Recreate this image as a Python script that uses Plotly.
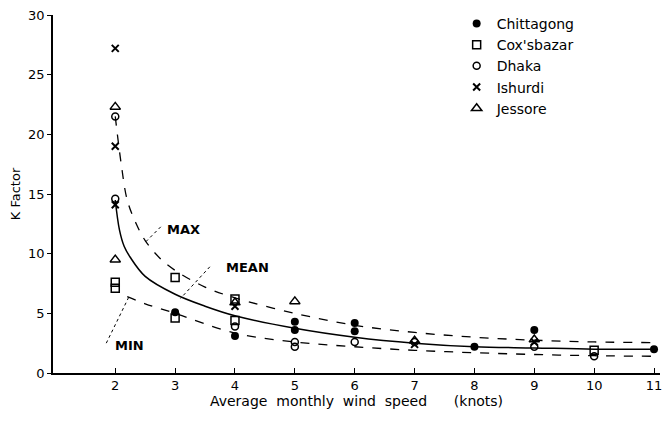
import plotly.graph_objects as go

# ---- data ----
chit_x = [3, 4, 5, 5, 6, 6, 8, 9, 11]
chit_y = [5.1, 3.1, 4.3, 3.6, 4.2, 3.5, 2.2, 3.6, 2.0]

cox_x = [2, 2, 3, 3, 4, 4, 10]
cox_y = [7.6, 7.1, 8.0, 4.6, 6.2, 4.4, 1.9]

dhaka_x = [2, 2, 4, 5, 5, 6, 7, 9, 10]
dhaka_y = [21.5, 14.6, 3.9, 2.6, 2.2, 2.6, 2.6, 2.2, 1.4]

ishurdi_x = [2, 2, 2, 4, 7, 9]
ishurdi_y = [27.2, 19.0, 14.1, 5.6, 2.4, 2.6]

jessore_x = [2, 2, 4, 5, 7, 9]
jessore_y = [22.3, 9.5, 5.9, 6.0, 2.7, 2.8]

max_x = [2.0, 2.1, 2.2, 2.35, 2.5, 2.75, 3, 3.5, 4, 5, 6, 7, 8, 9, 10, 11]
max_y = [21.5, 17.5, 14.5, 12.5, 11.1, 9.6, 8.6, 7.2, 6.3, 5.0, 4.0, 3.4, 3.0, 2.75, 2.6, 2.55]

mean_x = [2.0, 2.07, 2.15, 2.25, 2.5, 3, 3.5, 4, 5, 6, 7, 8, 9, 10, 11]
mean_y = [14.5, 12.0, 10.6, 9.7, 8.1, 6.6, 5.6, 4.8, 3.75, 3.0, 2.5, 2.2, 2.1, 2.0, 2.0]

min_x = [2.2, 2.5, 3, 4, 5, 6, 7, 8, 9, 10, 11]
min_y = [6.4, 5.8, 5.0, 3.35, 2.6, 2.2, 1.9, 1.7, 1.55, 1.45, 1.4]

x_ticks = [2, 3, 4, 5, 6, 7, 8, 9, 10, 11]
y_ticks = [0, 5, 10, 15, 20, 25, 30]

FONT = "DejaVu Sans"
BLACK = "#000000"

fig = go.Figure()

# curves
fig.add_trace(go.Scatter(x=max_x, y=max_y, mode="lines", line=dict(color=BLACK, width=1.3, dash="dash", shape="spline"),
                         showlegend=False, hoverinfo="skip"))
fig.add_trace(go.Scatter(x=mean_x, y=mean_y, mode="lines", line=dict(color=BLACK, width=1.5, shape="spline"),
                         showlegend=False, hoverinfo="skip"))
fig.add_trace(go.Scatter(x=min_x, y=min_y, mode="lines", line=dict(color=BLACK, width=1.3, dash="dash", shape="spline"),
                         showlegend=False, hoverinfo="skip"))

# stations
fig.add_trace(go.Scatter(x=chit_x, y=chit_y, mode="markers", name="Chittagong",
                         marker=dict(symbol="circle", size=8, color=BLACK)))
fig.add_trace(go.Scatter(x=cox_x, y=cox_y, mode="markers", name="Cox'sbazar",
                         marker=dict(symbol="square-open", size=8, color=BLACK, line=dict(width=1.5))))
fig.add_trace(go.Scatter(x=dhaka_x, y=dhaka_y, mode="markers", name="Dhaka",
                         marker=dict(symbol="circle-open", size=7, color=BLACK, line=dict(width=1.5))))
fig.add_trace(go.Scatter(x=ishurdi_x, y=ishurdi_y, mode="markers", name="Ishurdi",
                         marker=dict(symbol="x-thin-open", size=7, color=BLACK, line=dict(width=2))))
fig.add_trace(go.Scatter(x=jessore_x, y=jessore_y, mode="markers", name="Jessore",
                         marker=dict(symbol="triangle-up-open", size=9, color=BLACK, line=dict(width=1.5))))

# curve labels
for txt, x, y in [("MAX", 3.14, 12.0), ("MEAN", 4.21, 8.8), ("MIN", 2.23, 2.3)]:
    fig.add_annotation(x=x, y=y, text="<b>%s</b>" % txt, showarrow=False,
                       font=dict(family=FONT, size=13, color=BLACK))

# leader lines
for x0, y0, x1, y1 in [(2.76, 12.25, 2.51, 11.0), (3.58, 8.9, 3.09, 6.25), (1.85, 2.5, 2.23, 6.4)]:
    fig.add_shape(type="line", x0=x0, y0=y0, x1=x1, y1=y1, xref="x", yref="y",
                  line=dict(color=BLACK, width=1, dash="dot"))

fig.update_layout(
    width=670, height=421,
    margin=dict(l=53, r=8, t=13, b=48),
    paper_bgcolor="white", plot_bgcolor="white",
    font=dict(family=FONT, size=12, color=BLACK),
    legend=dict(x=0.665, y=1.02, xanchor="left", yanchor="top", bgcolor="rgba(0,0,0,0)",
                font=dict(family=FONT, size=14, color=BLACK), itemclick=False),
    xaxis=dict(range=[0.96, 11.1], tickvals=x_ticks, ticktext=[str(v) for v in x_ticks],
               showgrid=False, zeroline=False, showline=True, linecolor=BLACK, linewidth=1.5,
               ticks="inside", ticklen=5, tickcolor=BLACK, tickfont=dict(size=13),
               title=dict(text="Average&nbsp; monthly&nbsp; wind&nbsp; speed&nbsp;&nbsp;&nbsp;&nbsp;&nbsp; (knots)",
                          font=dict(size=14), standoff=4)),
    yaxis=dict(range=[0, 30], tickvals=y_ticks, ticktext=[str(v) for v in y_ticks],
               showgrid=False, zeroline=False, showline=True, linecolor=BLACK, linewidth=1.5,
               ticks="outside", ticklen=4, tickcolor=BLACK, tickfont=dict(size=13),
               title=dict(text="K Factor", font=dict(size=13), standoff=5)),
)

fig.write_html("out.html", config={"displayModeBar": False},
               post_script="document.body.style.margin='0';")
